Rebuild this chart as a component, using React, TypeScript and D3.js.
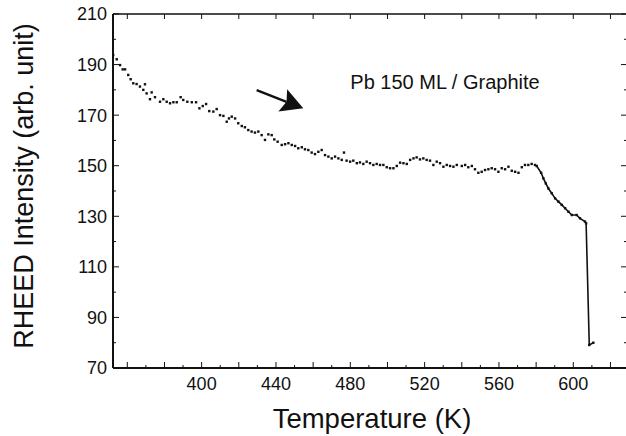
import React from "react";
import * as d3 from "d3";

// Data (temperature in K, RHEED intensity in arb. unit)
const temperature: number[] = [
  352.4, 354.3, 356.1, 357.5, 358.8, 360.5, 361.8, 363.2, 365.0, 366.8,
  368.6, 369.5, 370.4, 372.2, 373.1, 374.9, 377.6, 379.4, 381.2, 383.0,
  384.8, 386.6, 388.7, 390.1, 392.3, 394.7, 397.0, 398.8, 400.6, 402.4,
  404.1, 406.3, 408.1, 409.9, 411.7, 413.5, 414.7, 416.2, 418.0, 419.7,
  421.6, 423.3, 425.1, 426.9, 428.7, 430.5, 432.3, 434.1, 435.9, 437.7,
  439.1, 440.9, 443.1, 444.9, 446.7, 448.5, 450.3, 452.0, 453.9, 455.6,
  457.4, 459.2, 461.0, 462.8, 464.6, 466.4, 468.2, 470.0, 471.8, 473.6,
  475.4, 476.6, 478.0, 479.9, 481.6, 483.5, 485.2, 487.0, 488.8, 490.6,
  492.4, 494.2, 496.0, 497.8, 499.6, 501.4, 503.2, 505.0, 506.8, 508.6,
  510.4, 512.2, 514.0, 515.7, 517.5, 519.3, 521.1, 522.9, 524.7, 526.5,
  528.3, 530.1, 531.9, 533.7, 535.5, 537.3, 540.0, 541.8, 543.5, 545.4,
  547.1, 548.9, 550.7, 552.5, 554.3, 556.1, 557.9, 559.7, 561.5, 563.3,
  565.1, 566.9, 568.7, 570.5, 572.3, 574.0, 575.8, 577.6, 579.4, 580.3,
  582.7, 583.9, 585.2, 586.6, 588.4, 590.2, 592.0, 593.8, 595.6, 597.4,
  599.2, 601.8, 603.6, 606.3, 606.9, 608.6, 610.8,
];
const intensity: number[] = [
  193.8, 192.1, 189.8, 188.1, 188.1, 185.9, 184.2, 182.6, 182.3, 181.3,
  180.0, 182.2, 178.6, 176.3, 179.0, 177.1, 175.3, 176.3, 175.3, 174.7,
  175.1, 175.1, 177.1, 176.0, 175.3, 175.1, 175.1, 172.7, 173.6, 174.4,
  171.6, 171.4, 172.4, 170.0, 169.7, 167.4, 168.7, 169.4, 168.7, 166.8,
  165.7, 165.2, 164.1, 163.5, 163.1, 163.5, 162.1, 160.2, 162.4, 162.1,
  160.4, 159.5, 158.2, 158.5, 158.9, 158.2, 157.8, 156.9, 157.3, 156.5,
  156.2, 155.2, 154.6, 155.5, 156.2, 154.2, 153.6, 152.9, 153.6, 152.9,
  152.3, 155.2, 152.0, 151.6, 152.0, 151.0, 151.3, 150.7, 151.6, 151.0,
  150.3, 150.7, 150.3, 150.3, 149.4, 149.0, 149.0, 149.9, 151.2, 151.0,
  150.7, 152.3, 152.9, 153.3, 152.5, 152.9, 152.3, 152.0, 150.3, 151.6,
  151.0, 149.6, 150.3, 149.9, 149.6, 150.3, 149.9, 150.3, 149.4, 149.9,
  148.6, 147.2, 147.6, 148.3, 148.6, 149.0, 148.6, 147.6, 149.0, 148.6,
  149.6, 148.0, 147.6, 147.2, 149.4, 150.3, 150.3, 150.7, 150.3, 149.9,
  147.2, 145.0, 143.0, 141.0, 139.1, 137.1, 135.8, 134.5, 133.2, 131.8,
  130.5, 130.5, 129.2, 127.9, 127.2, 79.1, 80.0,
];
// Above this temperature the points are joined by a solid line
const lineStartT = 580;

const xDomain: [number, number] = [352.3, 628.9];
const yDomain: [number, number] = [70, 210];
const xTickLabels: number[] = [400, 440, 480, 520, 560, 600];
const yTickLabels: number[] = [70, 90, 110, 130, 150, 170, 190, 210];

const annotationText = "Pb 150 ML / Graphite";
const annotationPos = { t: 480, i: 180.3 };
const arrowFrom = { t: 429.6, i: 179.9 };
const arrowTo = { t: 454.7, i: 172.7 };

const xTitle = "Temperature (K)";
const yTitle = "RHEED Intensity (arb. unit)";

const W = 626;
const H = 436;
const M = { left: 113, right: 627, top: 14, bottom: 368 };
const FONT = "'Liberation Sans', Arial, Helvetica, sans-serif";
const INK = "#111";

export default function App() {
  const x = d3.scaleLinear().domain(xDomain).range([M.left, M.right]);
  const y = d3.scaleLinear().domain(yDomain).range([M.bottom, M.top]);

  const pts = temperature.map((t, k) => ({ t, i: intensity[k] }));
  const linePts = pts.filter((p) => p.t >= lineStartT);
  const lineGen = d3
    .line<{ t: number; i: number }>()
    .x((d) => x(d.t))
    .y((d) => y(d.i));

  const xMinor = d3.range(360, 630, 10);
  const yMinor = d3.range(70, 211, 10);

  // arrow geometry
  const ax0 = x(arrowFrom.t), ay0 = y(arrowFrom.i);
  const ax1 = x(arrowTo.t), ay1 = y(arrowTo.i);
  const len = Math.hypot(ax1 - ax0, ay1 - ay0);
  const ux = (ax1 - ax0) / len, uy = (ay1 - ay0) / len;
  const px = -uy, py = ux;
  const headL = 22, headW = 12, notch = 4;
  const bx = ax1 - ux * headL, by = ay1 - uy * headL;
  const head = [
    [ax1, ay1],
    [bx + px * headW, by + py * headW],
    [bx + ux * notch, by + uy * notch],
    [bx - px * headW, by - py * headW],
  ]
    .map((p) => p.join(","))
    .join(" ");

  return (
    <svg
      width={W}
      height={H}
      style={{ position: "absolute", left: 0, top: 0, background: "#fff" }}
      fontFamily={FONT}
    >
      <rect x={0} y={0} width={W} height={H} fill="#fff" />
      {/* frame */}
      <line x1={M.left} x2={W} y1={M.top} y2={M.top} stroke={INK} strokeWidth={1.6} />
      <line x1={M.left} x2={W} y1={M.bottom} y2={M.bottom} stroke={INK} strokeWidth={2} />
      <line x1={M.left} x2={M.left} y1={M.top} y2={M.bottom} stroke={INK} strokeWidth={2} />

      {/* x ticks */}
      {xMinor.map((t) => {
        const major = t % 20 === 0;
        return (
          <g key={"xt" + t}>
            <line
              x1={x(t)} x2={x(t)} y1={M.bottom} y2={M.bottom - (major ? 6 : 3)}
              stroke={INK} strokeWidth={1}
            />
            {major && (
              <line x1={x(t)} x2={x(t)} y1={M.top} y2={M.top + 5} stroke={INK} strokeWidth={1} />
            )}
          </g>
        );
      })}
      {xTickLabels.map((t) => (
        <text key={"xl" + t} x={x(t)} y={390} textAnchor="middle" fontSize={18} fill={INK}>
          {t}
        </text>
      ))}

      {/* y ticks */}
      {yMinor.map((v) => {
        const major = v % 20 === 10;
        return (
          <g key={"yt" + v}>
            <line
              x1={M.left} x2={M.left + (major ? 6 : 3)} y1={y(v)} y2={y(v)}
              stroke={INK} strokeWidth={1}
            />
            <line
              x1={M.right} x2={M.right - (major ? 6 : 3)} y1={y(v)} y2={y(v)}
              stroke={INK} strokeWidth={1}
            />
          </g>
        );
      })}
      {yTickLabels.map((v) => (
        <text key={"yl" + v} x={107} y={y(v)} dy="0.36em" textAnchor="end" fontSize={18} fill={INK}>
          {v}
        </text>
      ))}

      {/* data */}
      <path d={lineGen(linePts) || ""} fill="none" stroke={INK} strokeWidth={1.6} />
      {pts.map((p, k) => (
        <rect
          key={"p" + k}
          x={x(p.t) - 1.2}
          y={y(p.i) - 1.2}
          width={2.4}
          height={2.4}
          fill={INK}
        />
      ))}

      {/* annotation */}
      <line
        x1={ax0} y1={ay0} x2={bx + ux * notch} y2={by + uy * notch}
        stroke={INK} strokeWidth={2.4}
      />
      <polygon points={head} fill={INK} />
      <text x={x(annotationPos.t)} y={y(annotationPos.i)} fontSize={20} fill={INK}>
        {annotationText}
      </text>

      {/* axis titles */}
      <text x={372} y={428} textAnchor="middle" fontSize={27.5} fill={INK}>
        {xTitle}
      </text>
      <text
        transform={`translate(33,186) rotate(-90)`}
        textAnchor="middle"
        fontSize={27}
        fill={INK}
      >
        {yTitle}
      </text>
    </svg>
  );
}
